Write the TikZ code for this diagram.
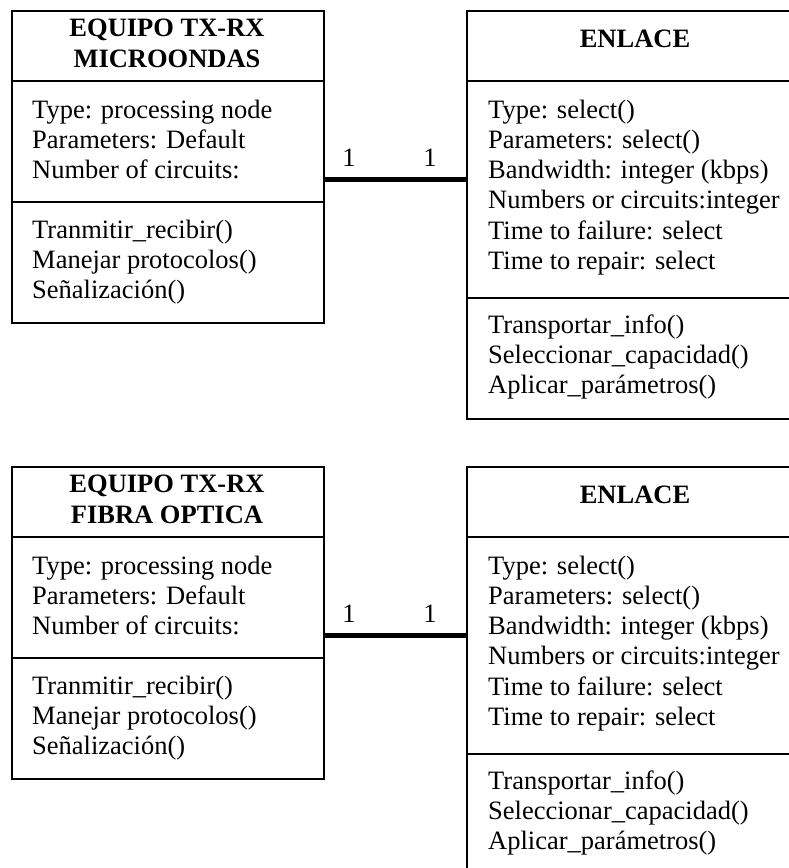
\documentclass[tikz,border=0pt]{standalone}
\usepackage{fontspec}
\setmainfont{Liberation Serif}
\begin{document}
\begin{tikzpicture}[x=1pt,y=-1pt,
  classbox/.style={draw,line width=1.8pt,rectangle,inner sep=0pt,anchor=north west},
  sep/.style={line width=1.8pt},
  assoc/.style={line width=5pt},
  txt/.style={inner sep=0pt,anchor=base west,font=\fontsize{26.5}{30}\selectfont},
  ttl/.style={inner sep=0pt,anchor=base,font=\fontsize{26.5}{30}\selectfont\bfseries},
  mult/.style={inner sep=0pt,anchor=base,font=\fontsize{26.5}{30}\selectfont}]
\clip (0,0) rectangle (789,868);
\fill[white] (0,0) rectangle (789,868);
\foreach \dy/\tag/\sub in {0/a/MICROONDAS, 456/b/FIBRA OPTICA}{
  % equipment class
  \node[classbox,minimum width=312pt,minimum height=312pt] (eq\tag) at (11,10+\dy) {};
  \draw[sep] (11,81+\dy) -- (323,81+\dy);
  \draw[sep] (11,202+\dy) -- (323,202+\dy);
  \node[ttl] (eq\tag t1) at (167,36+\dy) {EQUIPO TX-RX};
  \node[ttl] (eq\tag t2) at (167,67+\dy) {\sub};
  \foreach \s [count=\i] in {Type: processing node, Parameters: Default, Number of circuits:}
    \node[txt] (eq\tag at\i) at (32,118+\dy+30*\i-30) {\s};
  \foreach \s [count=\i] in {Tranmitir\_recibir(), Manejar protocolos(), Señalización()}
    \node[txt] (eq\tag op\i) at (32,238+\dy+30*\i-30) {\s};
  % link class
  \node[classbox,minimum width=338pt,minimum height=408pt] (en\tag) at (466,10+\dy) {};
  \draw[sep] (466,81+\dy) -- (804,81+\dy);
  \draw[sep] (466,298+\dy) -- (804,298+\dy);
  \node[ttl] (en\tag t) at (635,47+\dy) {ENLACE};
  \foreach \s [count=\i] in {Type: select(), Parameters: select(), Bandwidth: integer (kbps),
      Numbers or circuits:integer, Time to failure: select, Time to repair: select}
    \node[txt] (en\tag at\i) at (488,118+\dy+30.3*\i-30.3) {\s};
  \foreach \s [count=\i] in {Transportar\_info(), Seleccionar\_capacidad(), Aplicar\_parámetros()}
    \node[txt] (en\tag op\i) at (488,333+\dy+30*\i-30) {\s};
  % one-to-one association
  \draw[assoc] ([yshift=-12.5pt]eq\tag.east) -- ([yshift=-12.5pt]eq\tag.east -| en\tag.west);
  \node[mult] (m\tag l) at (349,166+\dy) {1};
  \node[mult] (m\tag r) at (430,166+\dy) {1};
}
\end{tikzpicture}
\end{document}
